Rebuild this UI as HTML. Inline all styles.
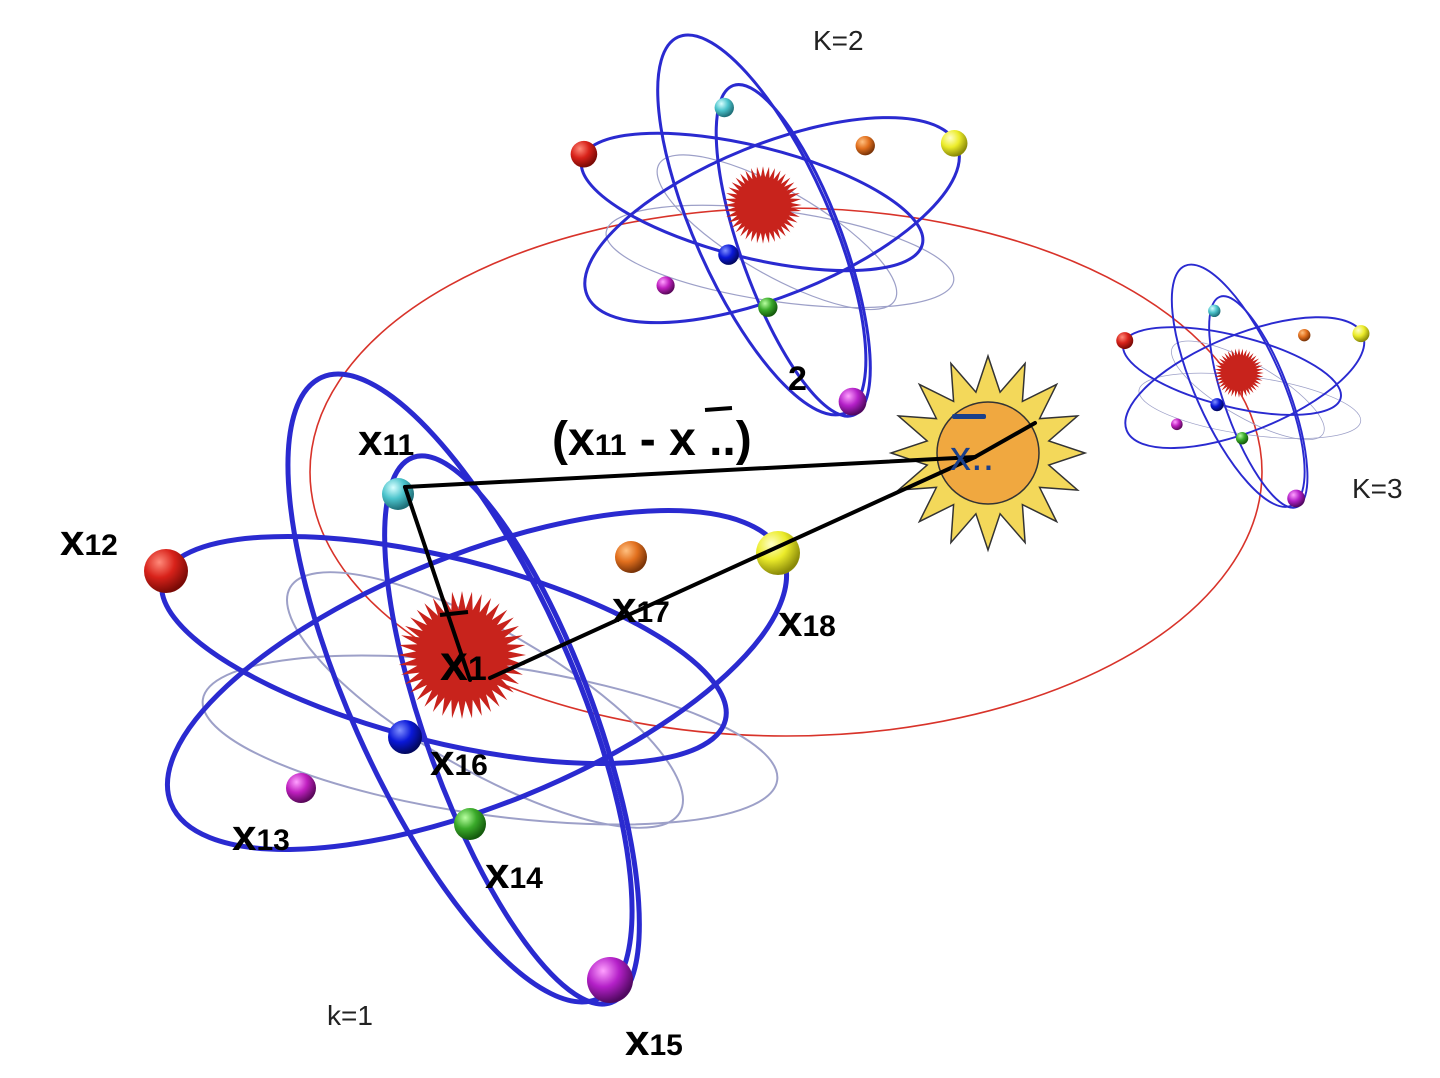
<!DOCTYPE html>
<html><head><meta charset="utf-8"><style>
html,body{margin:0;padding:0;background:#fff;}
svg{display:block}
.hw{font-family:"Liberation Sans",sans-serif;fill:#000;font-weight:bold}
.lb{font-family:"Liberation Sans",sans-serif;fill:#222;font-size:28px}
</style></head><body>
<svg id="s" width="1440" height="1078" viewBox="0 0 1440 1078">
<defs>
<radialGradient id="gc" cx="35%" cy="30%" r="70%"><stop offset="0" stop-color="#d8ffff"/><stop offset=".5" stop-color="#4cc4cc"/><stop offset="1" stop-color="#1f6f78"/></radialGradient>
<radialGradient id="gr" cx="35%" cy="30%" r="70%"><stop offset="0" stop-color="#ff8a7a"/><stop offset=".5" stop-color="#d8221a"/><stop offset="1" stop-color="#7a0a06"/></radialGradient>
<radialGradient id="go" cx="35%" cy="30%" r="70%"><stop offset="0" stop-color="#ffc080"/><stop offset=".5" stop-color="#e2701e"/><stop offset="1" stop-color="#7a3408"/></radialGradient>
<radialGradient id="gy" cx="35%" cy="30%" r="70%"><stop offset="0" stop-color="#ffffc8"/><stop offset=".5" stop-color="#ecec2a"/><stop offset="1" stop-color="#8a8a08"/></radialGradient>
<radialGradient id="gb" cx="35%" cy="30%" r="70%"><stop offset="0" stop-color="#8090ff"/><stop offset=".5" stop-color="#0a18d8"/><stop offset="1" stop-color="#020860"/></radialGradient>
<radialGradient id="gm" cx="35%" cy="30%" r="70%"><stop offset="0" stop-color="#ffa0ff"/><stop offset=".5" stop-color="#c020c0"/><stop offset="1" stop-color="#5a085a"/></radialGradient>
<radialGradient id="gg" cx="35%" cy="30%" r="70%"><stop offset="0" stop-color="#b8ffa0"/><stop offset=".5" stop-color="#3aaa2a"/><stop offset="1" stop-color="#145a0c"/></radialGradient>
<radialGradient id="gp" cx="35%" cy="30%" r="70%"><stop offset="0" stop-color="#ffa0ff"/><stop offset=".5" stop-color="#b420c8"/><stop offset="1" stop-color="#500860"/></radialGradient>
</defs>
<ellipse cx="786" cy="472" rx="476" ry="264" fill="none" stroke="#d8332a" stroke-width="1.6"/>
<g id="atoms"></g>
<g>
<polygon id="sunp" fill="#f3d85a" stroke="#333" stroke-width="1.5"/>
<circle cx="988" cy="453" r="51" fill="#f0a840" stroke="#333" stroke-width="1.5"/>
</g>
<g stroke="#000" stroke-width="4" fill="none" stroke-linecap="round">
<line x1="405" y1="487" x2="975" y2="457"/>
<line x1="405" y1="487" x2="470" y2="680"/>
<line x1="490" y1="678" x2="975" y2="457"/>
<line x1="975" y1="457" x2="1035" y2="423"/>
</g>
<g fill="#1a3f8a" font-family="Liberation Sans,sans-serif" font-size="42">
<text x="950" y="470">x..</text><rect x="952" y="414" width="34" height="5" rx="2"/>
</g>
<text class="hw" x="358" y="455" font-size="44">x<tspan font-size="30">11</tspan></text>
<text class="hw" x="60" y="555" font-size="44">x<tspan font-size="30">12</tspan></text>
<text class="hw" x="232" y="850" font-size="44">x<tspan font-size="30">13</tspan></text>
<text class="hw" x="485" y="888" font-size="44">x<tspan font-size="30">14</tspan></text>
<text class="hw" x="625" y="1055" font-size="44">x<tspan font-size="30">15</tspan></text>
<text class="hw" x="430" y="775" font-size="44">x<tspan font-size="30">16</tspan></text>
<text class="hw" x="612" y="622" font-size="44">x<tspan font-size="30">17</tspan></text>
<text class="hw" x="778" y="636" font-size="44">x<tspan font-size="30">18</tspan></text>
<text class="hw" x="440" y="680" font-size="50">x<tspan font-size="34">1</tspan></text>
<line x1="440" y1="615" x2="468" y2="612" stroke="#000" stroke-width="4"/>
<text class="hw" x="552" y="455" font-size="48">(x<tspan font-size="30">11</tspan> - x ..)</text>
<line x1="705" y1="410" x2="732" y2="408" stroke="#000" stroke-width="4"/>
<text class="hw" x="788" y="390" font-size="34">2</text>
<text class="lb" x="813" y="50">K=2</text>
<text class="lb" x="1352" y="498">K=3</text>
<text class="lb" x="327" y="1025">k=1</text>
</svg>
<script>
const NS='http://www.w3.org/2000/svg';
const clusters=[{x:462,y:655,s:1,n:'k1'},{x:763,y:205,s:0.605,n:'k2'},{x:1239,y:373,s:0.386,n:'k3'}];
const orbits=[[-18,-5,290,92,14],[15,25,330,125,-22],[-2,33,340,112,66],[50,75,290,85,70]];
const greys=[[28,85,290,75,8],[23,45,225,70,30]];
const electrons=[['gc',-64,-161,16],['gr',-296,-84,22],['go',169,-98,16],['gy',316,-102,22],['gb',-57,82,17],['gm',-161,133,15],['gg',8,169,16],['gp',148,325,23]];
function spiky(cx,cy,ro,ri,n,rot){let p=[];for(let i=0;i<2*n;i++){const a=Math.PI*i/n+(rot||0);const r=i%2?ri:ro;p.push((cx+r*Math.cos(a)).toFixed(1)+','+(cy+r*Math.sin(a)).toFixed(1));}return p.join(' ');}
const root=document.getElementById('atoms');
clusters.forEach(c=>{
 const g=document.createElementNS(NS,'g');
 
 
 g.setAttribute('transform',`translate(${c.x},${c.y}) scale(${c.s})`);
 greys.forEach(o=>{const e=document.createElementNS(NS,'ellipse');
  
  
  e.setAttribute('cx',o[0]);e.setAttribute('cy',o[1]);e.setAttribute('rx',o[2]);e.setAttribute('ry',o[3]);
  e.setAttribute('transform',`rotate(${o[4]} ${o[0]} ${o[1]})`);e.setAttribute('fill','none');e.setAttribute('stroke','#9da0c8');e.setAttribute('stroke-width','2');g.appendChild(e);});
 orbits.forEach(o=>{const e=document.createElementNS(NS,'ellipse');
  
  
  e.setAttribute('cx',o[0]);e.setAttribute('cy',o[1]);e.setAttribute('rx',o[2]);e.setAttribute('ry',o[3]);
  e.setAttribute('transform',`rotate(${o[4]} ${o[0]} ${o[1]})`);e.setAttribute('fill','none');e.setAttribute('stroke','#2a2ad0');e.setAttribute('stroke-width','5');g.appendChild(e);});
 const nu=document.createElementNS(NS,'polygon');
 
 
 nu.setAttribute('points',spiky(0,0,64,46,40));nu.setAttribute('fill','#c8231c');g.appendChild(nu);
 electrons.forEach(e=>{const ci=document.createElementNS(NS,'circle');
  
  
  ci.setAttribute('cx',e[1]);ci.setAttribute('cy',e[2]);ci.setAttribute('r',e[3]);ci.setAttribute('fill',`url(#${e[0]})`);g.appendChild(ci);});
 root.appendChild(g);
});
document.getElementById('sunp').setAttribute('points',spiky(988,453,97,62,16,-Math.PI/2));
</script>
</body></html>
